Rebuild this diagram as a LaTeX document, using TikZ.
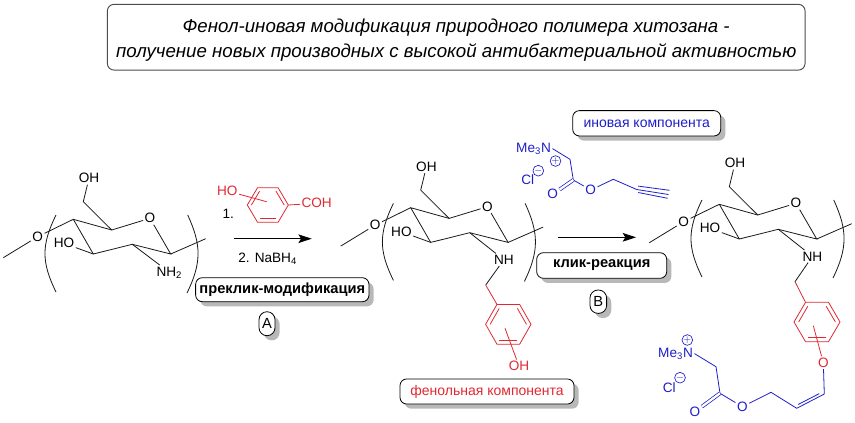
\documentclass[tikz,border=0pt]{standalone}
\usepackage{fontspec}
\setmainfont{Liberation Sans}
\usetikzlibrary{arrows.meta,calc,shadows}

\definecolor{chemred}{RGB}{225,40,50}
\definecolor{chemblue}{RGB}{30,30,200}

\tikzset{
	atom/.style={inner sep=1pt, font=\fontsize{10.2}{12}\selectfont},
	bond/.style={line width=0.6pt, black!90},
	redbond/.style={line width=0.6pt, chemred},
	bluebond/.style={line width=0.6pt, chemblue},
	doublebond/.style={bluebond, double=white, double distance=1.7pt, line width=0.55pt},
	charge/.style={circle, draw, inner sep=0pt, minimum size=7.4pt, line width=0.5pt, font=\fontsize{7.5}{7.5}\selectfont},
	tagbox/.style={draw=black, line width=0.6pt, fill=white, rounded corners=5pt, inner sep=0pt,
		drop shadow={shadow xshift=3.5pt, shadow yshift=-3.5pt, fill=black!28, opacity=1}},
	titlebox/.style={draw=black!70, line width=0.7pt, fill=white, rounded corners=5pt, inner sep=0pt, align=center,
		font=\fontsize{14}{19}\selectfont\itshape},
	reactarrow/.style={line width=0.7pt, -{Stealth[length=10pt, width=6.5pt, inset=2pt]}}
}

\begin{document}
\begin{tikzpicture}[x=0.75pt, y=-0.75pt]
	\useasboundingbox (0,0) rectangle (855,422);

	\node[titlebox, minimum width=523.3pt, minimum height=49.3pt] (title) at (456.2,37.2)
		{\rule{0pt}{15pt}Фенол-иновая модификация природного полимера хитозана -\\получение новых производных с высокой антибактериальной активностью};

	\foreach \u/\dx/\dy/\nlabel in {a/0/0/NH\textsubscript{2}, b/337.4/-11.6/NH, c/646/-15/NH}{
		\begin{scope}[shift={(\dx,\dy)}]
			\coordinate (\u lend) at (3.3,257.7);
			\coordinate (\u c1) at (170.7,254);
			\coordinate (\u c2) at (132.3,244.3);
			\coordinate (\u c3) at (93.3,254);
			\coordinate (\u c4) at (73.3,219.3);
			\coordinate (\u c5) at (111.7,230);
			\coordinate (\u c6) at (83.3,201.7);
			\coordinate (\u rend) at (205.7,238.7);
			\node[atom] (\u olink) at (37.7,236.7) {O};
			\node[atom] (\u oring) at (150,218.3) {O};
			\node[atom] (\u oh) at (89,178.3) {OH};
			\node[atom] (\u ho) at (64,243.3) {HO};
			\node[atom, anchor=base west] (\u nh) at (155,276) {\nlabel};
			\draw[bond] (\u lend) -- (\u olink) -- (\u c4) -- (\u c3) -- (\u c2) -- (\u c1) -- (\u oring) -- (\u c5) -- (\u c4);
			\draw[bond] (\u c5) -- (\u c6) -- (\u oh);
			\draw[bond] (\u c3) -- (\u ho);
			\draw[bond] (\u c2) -- (\u nh);
			\draw[bond] (\u c1) -- (\u rend);
			\coordinate (\u bl1) at (56,215);
			\coordinate (\u bl2) at (56,292);
			\coordinate (\u br1) at (187.7,215);
			\coordinate (\u br2) at (187,293);
			\draw[bond] (\u bl1) .. controls (41.3,245) and (41.3,262) .. (\u bl2);
			\draw[bond] (\u br1) .. controls (201.6,245) and (201.6,263) .. (\u br2);
		\end{scope}
	}

	\foreach \r/\cx/\cy/\w/\h in {k/267.8/205/20.5/17.3, m/508.3/324.3/22.7/19.9, n/817/322/23/19.7}{
		\coordinate (\r c) at (\cx,\cy);
		\coordinate (\r 1) at ({\cx-\w},\cy);
		\coordinate (\r 2) at ({\cx-\w/2},{\cy-\h});
		\coordinate (\r 3) at ({\cx+\w/2},{\cy-\h});
		\coordinate (\r 4) at ({\cx+\w},\cy);
		\coordinate (\r 5) at ({\cx+\w/2},{\cy+\h});
		\coordinate (\r 6) at ({\cx-\w/2},{\cy+\h});
		\draw[redbond] (\r 1) -- (\r 2) -- (\r 3) -- (\r 4) -- (\r 5) -- (\r 6) -- cycle;
		\draw[redbond] ($(\r c)!.8!(\r 1)$) -- ($(\r c)!.8!(\r 2)$);
		\draw[redbond] ($(\r c)!.8!(\r 3)$) -- ($(\r c)!.8!(\r 4)$);
		\draw[redbond] ($(\r c)!.8!(\r 5)$) -- ($(\r c)!.8!(\r 6)$);
	}

	\node[atom, text=chemred] (kho) at (227.3,191) {HO};
	\coordinate (kin) at (266.7,201.7);
	\node[atom, text=chemred] (kcoh) at (316.7,203.3) {COH};
	\draw[redbond] (kho) -- (kin);
	\draw[redbond] (k4) -- (kcoh);
	\node[atom] (stepone) at (228.3,214.3) {1.};
	\node[atom] (steptwo) at (267.7,258.3) {2. NaBH\textsubscript{4}};
	\coordinate (arrowa1) at (234,238.7);
	\coordinate (arrowa2) at (311.7,238.7);
	\draw[reactarrow] (arrowa1) -- (arrowa2);

	\coordinate (bch) at (485.7,285);
	\coordinate (min) at (505,328.3);
	\node[atom, text=chemred] (moh) at (519,366) {OH};
	\draw[bond] (bnh) -- (bch);
	\draw[redbond] (bch) -- (m2);
	\draw[redbond] (min) -- (moh);

	\coordinate (cch) at (795,281.7);
	\coordinate (nin) at (813.3,325.7);
	\node[atom, text=chemred] (no) at (823.3,362.7) {O};
	\draw[bond] (cnh) -- (cch);
	\draw[redbond] (cch) -- (n2);
	\draw[redbond] (nin) -- (no);

	\node[atom, text=chemblue, anchor=base] (rme) at (533.5,152.2) {Me\textsubscript{3}N};
	\node[charge, text=chemblue, draw=chemblue] (rplus) at (555.5,161) {$+$};
	\node[atom, text=chemblue] (rcl) at (527.7,180) {Cl};
	\node[charge, text=chemblue, draw=chemblue] (rminus) at (538.3,170.7) {$-$};
	\coordinate (rch1) at (570,159.3);
	\coordinate (rco) at (573.3,180);
	\node[atom, text=chemblue] (rodb) at (552.7,194.3) {O};
	\node[atom, text=chemblue] (roes) at (590.7,190) {O};
	\coordinate (rch2) at (613.3,179.3);
	\coordinate (rtr1) at (636.7,189.5);
	\coordinate (rtr2) at (668.5,194.5);
	\draw[bluebond] (rme.east) -- (rch1) -- (rco) -- (roes) -- (rch2) -- (rtr1) -- (rtr2);
	\draw[doublebond] (rco) -- (rodb);
	\draw[bluebond] ($(rtr1)+(1.5,-3.4)$) -- ($(rtr2)+(1,-4.2)$);
	\draw[bluebond] ($(rtr1)+(1.5,3)$) -- ($(rtr2)+(-0.8,3.8)$);

	\node[atom, text=chemblue, anchor=base] (pme) at (675.5,357.2) {Me\textsubscript{3}N};
	\node[charge, text=chemblue, draw=chemblue] (pplus) at (687.3,340) {$+$};
	\node[atom, text=chemblue] (pcl) at (669.3,387.3) {Cl};
	\node[charge, text=chemblue, draw=chemblue] (pminus) at (680,377.7) {$-$};
	\coordinate (pch1) at (716,366.7);
	\coordinate (pco) at (720,393.3);
	\node[atom, text=chemblue] (podb) at (695,411.7) {O};
	\node[atom, text=chemblue] (poes) at (742.3,406.7) {O};
	\coordinate (pch2) at (771,392.3);
	\coordinate (pv1) at (796.7,408.3);
	\coordinate (pv2) at (824.3,394);
	\coordinate (pin1) at (798.3,404.4);
	\coordinate (pin2) at (819.3,393.6);
	\draw[bluebond] (pme.east) -- (pch1) -- (pco) -- (poes) -- (pch2) -- (pv1) -- (pv2) -- (no);
	\draw[bluebond] (pin1) -- (pin2);
	\draw[doublebond] (pco) -- (podb);

	\coordinate (arrowb1) at (557.7,237.3);
	\coordinate (arrowb2) at (636,237.3);
	\draw[reactarrow] (arrowb1) -- (arrowb2);

	\node[tagbox, minimum width=130pt, minimum height=18pt, font=\fontsize{11}{13}\selectfont\bfseries] (preclick) at (282.3,289.7) {преклик-модификация};
	\node[tagbox, minimum width=12pt, minimum height=18pt, rounded corners=6pt, font=\fontsize{11}{13}\selectfont] (taga) at (267,323.7) {A};
	\node[tagbox, minimum width=97.5pt, minimum height=19.2pt, font=\fontsize{11}{13}\selectfont\bfseries] (click) at (601.7,265.5) {клик-реакция};
	\node[tagbox, minimum width=12.5pt, minimum height=17.5pt, rounded corners=6pt, font=\fontsize{11}{13}\selectfont] (tagb) at (598.3,301.7) {B};
	\node[tagbox, minimum width=111pt, minimum height=19pt, text=chemblue, font=\fontsize{10.5}{13}\selectfont] (alkynebox) at (646.7,123.3) {иновая компонента};
	\node[tagbox, minimum width=130.5pt, minimum height=18.8pt, text=chemred, font=\fontsize{10.5}{13}\selectfont] (phenolbox) at (487,391.5) {фенольная компонента};
\end{tikzpicture}
\end{document}
